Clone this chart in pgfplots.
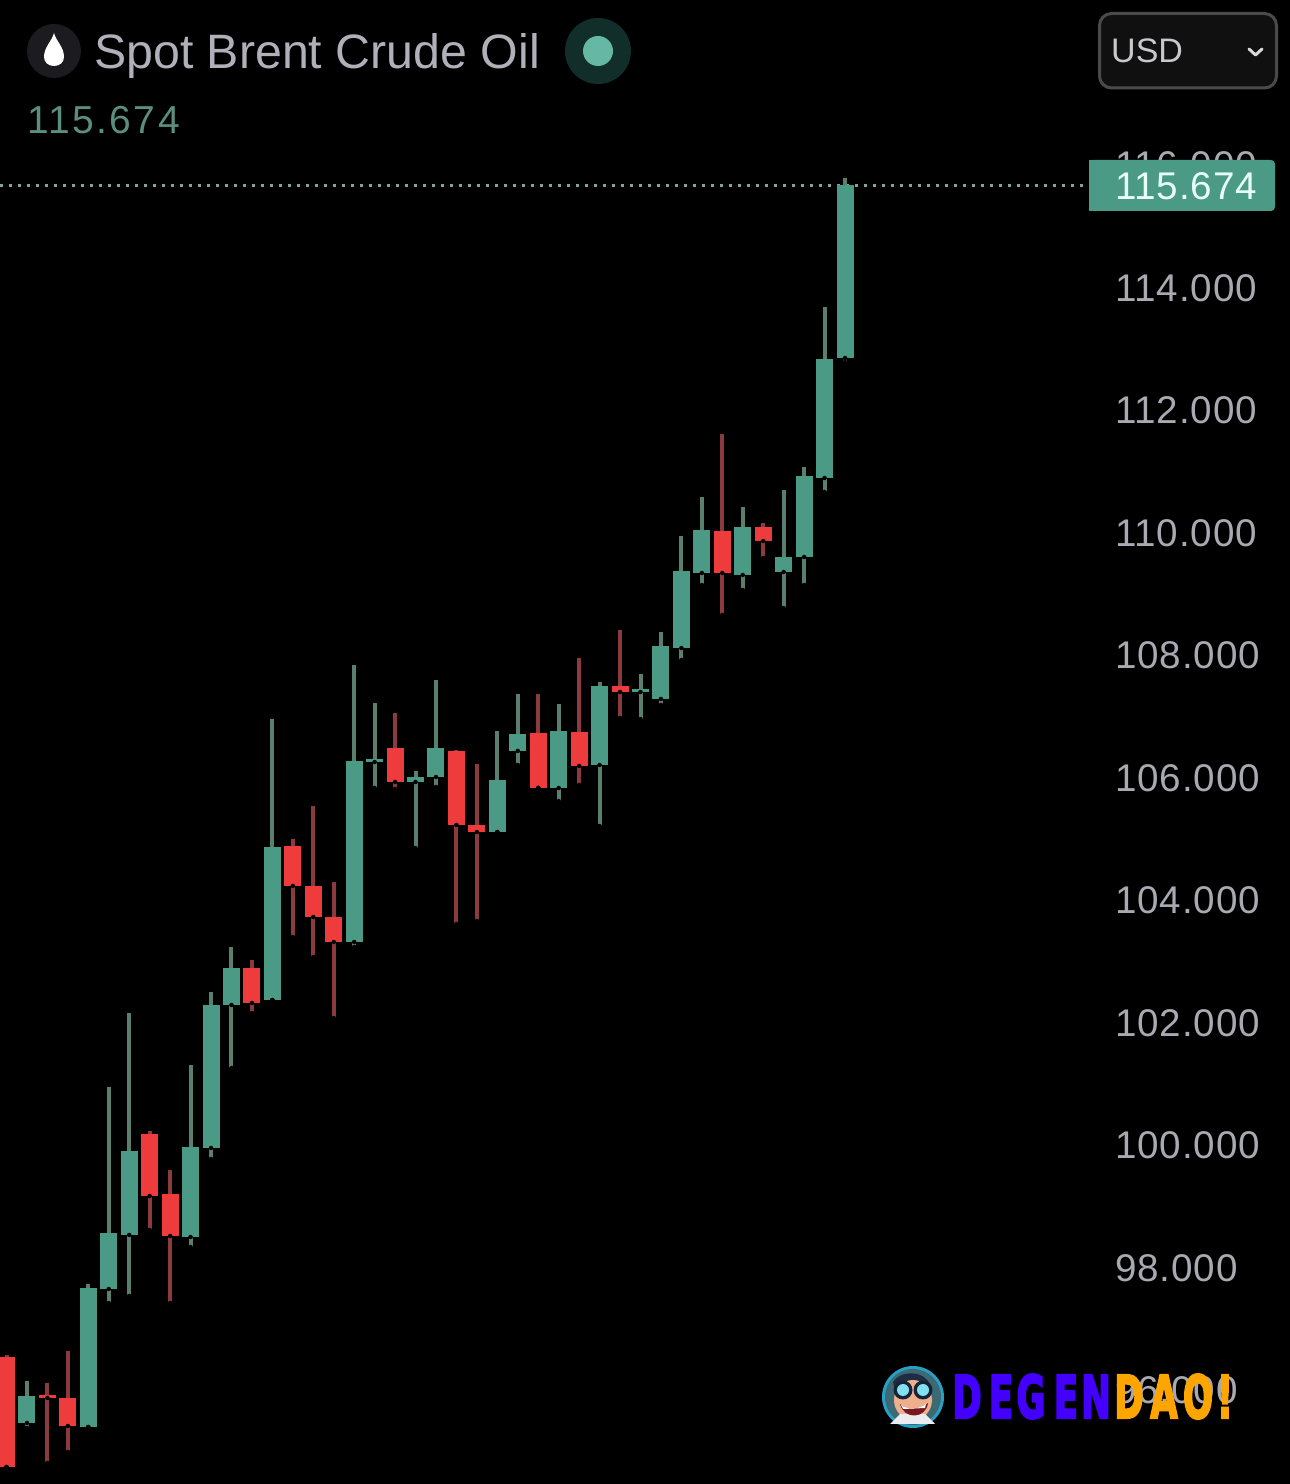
\documentclass[border=0pt]{standalone}
\usepackage{graphicx}
\usepackage{fontspec}
\setmainfont{Liberation Sans}
\newfontfamily\wm{DejaVu Sans}[BoldFont=* Bold, BoldFeatures={FakeBold=4}]
\newfontfamily\tk{Liberation Sans}[LetterSpace=2.2]
\newfontfamily\tkb{Liberation Sans}[LetterSpace=6.2]
\usepackage{pgfplots}
\usepackage{pgfplotstable}
\pgfplotsset{compat=1.18}
\definecolor{gbody}{HTML}{4A9A86}
\definecolor{gwick}{HTML}{5A7F6E}
\definecolor{rbody}{HTML}{EE3B3C}
\definecolor{rwick}{HTML}{8C3A3E}
\definecolor{ticktxt}{HTML}{A9A9B2}
\definecolor{wmblue}{HTML}{4400FF}
\definecolor{wmorange}{HTML}{FFA500}
\pgfplotstableread{
i low bot top high
1 95.388 95.469 95.910 96.155
4 95.404 95.404 97.673 97.739
5 97.428 97.657 98.571 100.955
6 97.543 98.539 99.910 102.163
9 98.343 98.506 99.975 101.314
10 99.779 99.959 102.294 102.506
11 101.265 102.294 102.898 103.241
13 102.375 102.375 104.873 106.963
17 103.241 103.322 106.277 107.845
18 105.837 106.261 106.310 107.224
20 104.857 105.935 106.016 106.114
21 105.853 106.016 106.490 107.600
24 105.118 105.118 105.967 106.767
25 106.212 106.441 106.718 107.371
27 105.624 105.837 106.767 107.208
29 105.216 106.212 107.502 107.567
31 106.963 107.404 107.453 107.698
32 107.192 107.290 108.155 108.384
33 107.926 108.122 109.380 109.951
34 109.151 109.347 110.049 110.588
36 109.069 109.314 110.098 110.424
38 108.775 109.363 109.608 110.702
39 109.151 109.608 110.931 111.078
40 110.669 110.898 112.841 113.690
41 112.792 112.857 115.674 115.796
}\greencandles
\pgfplotstableread{
i low bot top high
0 94.751 94.751 96.547 96.580
2 94.816 95.878 95.927 96.122
3 94.996 95.420 95.878 96.645
7 98.620 99.175 100.188 100.237
8 97.428 98.522 99.208 99.600
12 102.163 102.326 102.898 103.028
14 103.404 104.237 104.890 105.004
15 103.077 103.730 104.237 105.543
16 102.081 103.322 103.730 104.302
19 105.820 105.935 106.490 107.061
22 103.616 105.233 106.441 106.457
23 103.665 105.118 105.233 106.228
26 105.837 105.837 106.735 107.371
28 105.886 106.196 106.751 107.959
30 106.980 107.404 107.502 108.416
35 108.661 109.347 110.033 111.616
37 109.592 109.869 110.098 110.163
}\redcandles
\newcommand{\cand}[5]{% table, low col, high col, width, colour
  \addplot[forget plot, only marks, mark=none,
    error bars/.cd, y dir=plus, y explicit, error mark=none,
    error bar style={line width=#4, color=#5, solid}]
    table[x=i, y=#2, y error plus expr=\thisrow{#3}-\thisrow{#2}] {#1};
}
\newcommand{\fs}[1]{\fontsize{#1}{#1}\selectfont}
\newcommand{\wl}[3]{\node[text=#1, inner sep=0pt, anchor=base] at (#2,1418) {\fs{59}\wm\bfseries\scalebox{0.6}[1]{#3}};}
\begin{document}
\begin{tikzpicture}
\useasboundingbox (0,0) rectangle (1290pt,1484pt);
\fill[black] (0,0) rectangle (1290pt,1484pt);
\begin{axis}[
  at={(0,0)}, anchor=south west,
  width=1290pt, height=1484pt, scale only axis,
  xmin=-0.318, xmax=62.76, ymin=94.473, ymax=118.702,
  axis line style={draw=none}, major tick length=0pt,
  xtick=\empty,
  ytick={96,98,100,102,104,106,108,110,112,114,116},
  yticklabel pos=right,
  /pgf/number format/.cd, fixed, fixed zerofill, precision=3, 1000 sep={}, assume math mode=true,
  /pgfplots/.cd,
  yticklabel style={anchor=west, inner sep=0pt, xshift=-175pt, text=ticktxt, font=\tk\fs{38.6}},
]
\addplot[forget plot, draw={rgb,255:red,125;green,165;blue,152}, line width=2.7pt, dash pattern=on 2.7pt off 6.3pt]
  coordinates {(-0.318,115.674) (52.8,115.674)};
\cand{\greencandles}{low}{high}{4pt}{gwick}
\cand{\redcandles}{low}{high}{4pt}{rwick}
\cand{\greencandles}{bot}{top}{17pt}{gbody}
\cand{\redcandles}{bot}{top}{17pt}{rbody}
\end{axis}
\begin{scope}[x=1pt, y=-1pt, yshift=1484pt]
  % header
  \fill[fill={rgb,255:red,28;green,28;blue,32}] (54,51) circle (27pt);
  \fill[white] (54,33) .. controls (52,41) and (44,47) .. (44,57) .. controls (44,62) and (48,66) .. (54,66)
     .. controls (60,66) and (64,62) .. (64,57) .. controls (64,47) and (56,41) .. (54,33) -- cycle;
  \node[anchor=base west, inner sep=0pt, text={rgb,255:red,176;green,176;blue,186}] at (94,69) {\fs{48.3}Spot Brent Crude Oil};
  \fill[fill={rgb,255:red,17;green,46;blue,42}] (598,51) circle (33pt);
  \fill[fill={rgb,255:red,102;green,184;blue,165}] (598,51) circle (15pt);
  \node[anchor=base west, inner sep=0pt, text={rgb,255:red,92;green,142;blue,125}] at (27,134) {\tkb\fs{39}115.674};
  % currency box
  \draw[line width=3pt, draw={rgb,255:red,74;green,74;blue,74}, fill={rgb,255:red,16;green,16;blue,16}, rounded corners=12pt] (1099.5,13.5) rectangle (1276.5,88);
  \node[anchor=base west, inner sep=0pt, text={rgb,255:red,200;green,200;blue,205}] at (1111,63) {\fs{34}USD};
  \draw[line width=3pt, white!85!black, line cap=round, line join=round] (1249,49) -- (1255.5,55) -- (1262,49);
  % price tag
  \fill[gbody, rounded corners=4pt] (1089,160) -- (1275,160) -- (1275,211) -- (1089,211) -- cycle;
  \fill[gbody] (1089,160) rectangle (1100,211);
  \node[anchor=west, inner sep=0pt, text={rgb,255:red,232;green,255;blue,248}] at (1115,186) {\tk\fs{38.6}115.674};
  % watermark logo
  \fill[fill={rgb,255:red,40;green,160;blue,195}] (913,1397) circle (31pt);
  \fill[fill={rgb,255:red,60;green,105;blue,115}] (913,1397) circle (28pt);
  \fill[fill={rgb,255:red,30;green,45;blue,70}] (893,1382) .. controls (900,1370) and (925,1370) .. (930,1385) -- (895,1392) -- cycle;
  \fill[fill={rgb,255:red,240;green,175;blue,140}] (913,1400) ellipse (19pt and 20pt);
  \fill[fill={rgb,255:red,235;green,235;blue,240}] (890,1424) -- (935,1424) -- (925,1414) -- (900,1414) -- cycle;
  \fill[fill={rgb,255:red,25;green,35;blue,55}] (903,1390) circle (9.5pt);
  \fill[fill={rgb,255:red,25;green,35;blue,55}] (923,1390) circle (9.5pt);
  \fill[fill={rgb,255:red,130;green,225;blue,240}] (903,1390) circle (6pt);
  \fill[fill={rgb,255:red,130;green,225;blue,240}] (923,1390) circle (6pt);
  \fill[fill={rgb,255:red,120;green,25;blue,30}] (900,1404) .. controls (905,1410) and (921,1410) .. (928,1403) .. controls (926,1419) and (904,1420) .. (900,1404) -- cycle;
  \fill[white] (901,1405) .. controls (908,1410) and (920,1409) .. (926,1404) -- (925,1408) -- (903,1409) -- cycle;
  % watermark text
  \wl{wmblue}{967}{D}
  \wl{wmblue}{1001}{E}
  \wl{wmblue}{1031}{G}
  \wl{wmblue}{1066}{E}
  \wl{wmblue}{1096}{N}
  \wl{wmorange}{1129}{D}
  \wl{wmorange}{1164}{A}
  \wl{wmorange}{1198}{O}
  \wl{wmorange}{1225}{!}
\end{scope}
\end{tikzpicture}
\end{document}
